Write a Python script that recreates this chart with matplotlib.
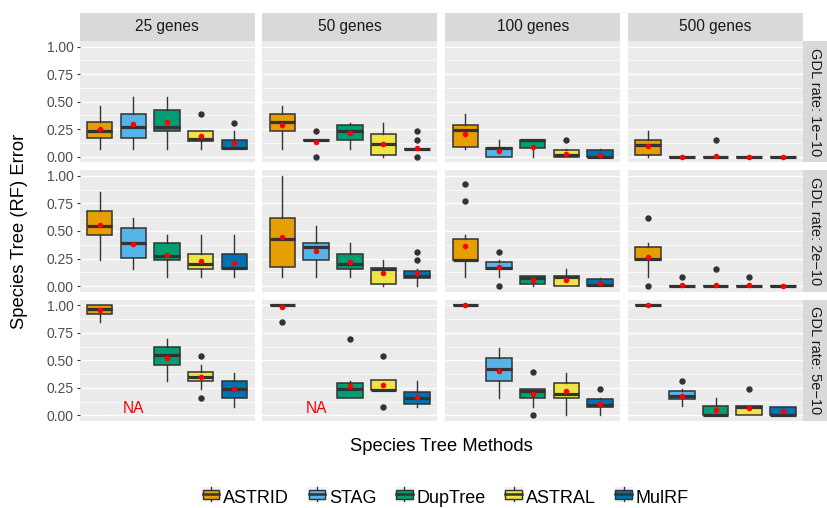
import numpy as np
import matplotlib
matplotlib.use("Agg")
import matplotlib.pyplot as plt
from matplotlib.patches import Rectangle
from matplotlib.lines import Line2D
from matplotlib.legend_handler import HandlerBase

plt.rcParams["font.family"] = ["Liberation Sans", "DejaVu Sans"]

METHODS = ["ASTRID", "STAG", "DupTree", "ASTRAL", "MulRF"]
COLORS = ["#E69F00", "#56B4E9", "#009E73", "#F0E442", "#0072B2"]
GENES = ["25 genes", "50 genes", "100 genes", "500 genes"]
RATES = ["GDL rate: 1e\u221210", "GDL rate: 2e\u221210", "GDL rate: 5e\u221210"]
NA = np.nan

# box stats: [rate][genes][method] = (whislo, q1, med, q3, whishi)
STATS = [
    [  # 1e-10
        [(.074, .168, .233, .313, .463), (.074, .168, .273, .39, .54), (.074, .23, .267, .426, .54),
         (.074, .147, .16, .233, .233), (.07, .07, .077, .156, .233)],
        [(.074, .23, .316, .39, .463), (.153, .153, .153, .153, .153), (.074, .15, .236, .29, .304),
         (0, .012, .116, .208, .304), (.074, .074, .074, .074, .074)],
        [(.074, .089, .239, .288, .387), (0, 0, .077, .077, .15), (0, .077, .154, .154, .154),
         (0, 0, .02, .058, .074), (0, 0, 0, .058, .074)],
        [(0, .018, .11, .153, .233), (0, 0, 0, 0, 0), (0, 0, 0, 0, 0),
         (0, 0, 0, 0, 0), (0, 0, 0, 0, 0)],
    ],
    [  # 2e-10
        [(.236, .467, .545, .679, .849), (.158, .252, .391, .524, .618), (.082, .234, .273, .391, .464),
         (.082, .155, .197, .291, .464), (.082, .152, .161, .291, .464)],
        [(.082, .173, .427, .618, 1.0), (.082, .234, .355, .391, .543), (.082, .155, .197, .291, .388),
         (0, .02, .155, .16, .234), (0, .076, .088, .136, .155)],
        [(.082, .234, .24, .427, .464), (.082, .152, .16, .215, .234), (0, .02, .076, .088, .088),
         (0, 0, .08, .088, .155), (0, 0, .01, .064, .076)],
        [(.082, .234, .245, .352, .388), (0, 0, 0, 0, 0), (0, 0, 0, 0, 0),
         (0, 0, 0, 0, 0), (0, 0, 0, 0, 0)],
    ],
    [  # 5e-10
        [(.844, .919, .967, 1.0, 1.0), None, (.314, .461, .548, .617, .691),
         (.237, .311, .35, .39, .458), (.081, .156, .237, .314, .386)],
        [(1.0, 1.0, 1.0, 1.0, 1.0), None, (.156, .156, .24, .291, .311),
         (.231, .231, .235, .318, .318), (.081, .102, .156, .216, .311)],
        [(1.0, 1.0, 1.0, 1.0, 1.0), (.162, .311, .425, .521, .614), (.081, .156, .222, .24, .242),
         (0, .156, .192, .291, .386), (0, .075, .096, .147, .156)],
        [(1.0, 1.0, 1.0, 1.0, 1.0), (.087, .153, .18, .219, .237), (0, 0, 0, .084, .156),
         (0, 0, .08, .09, .09), (0, 0, 0, .08, .08)],
    ],
]

MEANS = [
    [[.254, .295, .316, .184, .129], [.291, .138, .215, .118, .08],
     [.205, .052, .092, .027, .018], [.095, 0, .01, 0, 0]],
    [[.552, .382, .285, .227, .209], [.443, .322, .221, .118, .118],
     [.367, .17, .058, .058, .025], [.264, .01, .012, .006, 0]],
    [[.955, NA, .518, .35, .237], [.985, NA, .264, .273, .165],
     [1.0, .407, .198, .219, .108], [1.0, .174, .054, .069, .042]],
]

OUTLIERS = [
    [[[], [], [], [.387], [.31]], [[], [.233, 0], [], [], [.233, .15, 0]],
     [[], [], [], [.153], []], [[], [], [.153], [], []]],
    [[[], [], [], [], []], [[], [], [], [], [.312, .234]],
     [[.93, .776], [.312, 0], [], [], []], [[.62, 0], [.082], [.155], [.082], []]],
    [[[], [], [], [.542, .159], []], [[.844], [], [.691], [.542, .081], []],
     [[], [], [.39, 0], [], [.237]], [[], [.311], [], [.237], []]],
]

W, H = 827, 508
COL_LEFT = [79.5, 262.3, 445.2, 628.0]
COL_W = 175.0
ROW_TOP = [41.0, 170.3, 299.7]
ROW_H = 121.3
EDGE = "#333333"


def fax(x, y, w, h):
    return fig.add_axes([x / W, 1 - (y + h) / H, w / W, h / H])


class BoxKey(HandlerBase):
    def create_artists(self, legend, orig, xd, yd, width, height, fontsize, trans):
        bg = Rectangle((xd, yd), width, height, facecolor="#F2F2F2", edgecolor="none", transform=trans)
        cx = xd + width / 2
        wl = Line2D([cx, cx], [yd + 0.02 * height, yd + 0.98 * height], color=EDGE, lw=1.0, transform=trans)
        box = Rectangle((xd + 0.08 * width, yd + 0.2 * height), 0.84 * width, 0.6 * height,
                        facecolor=orig.get_facecolor(), edgecolor=EDGE, lw=1.0, transform=trans)
        med = Line2D([xd + 0.08 * width, xd + 0.92 * width], [yd + height / 2] * 2, color=EDGE, lw=1.8,
                     transform=trans)
        return [bg, wl, box, med]


fig = plt.figure(figsize=(W / 100, H / 100), dpi=100)
pos = np.arange(1, len(METHODS) + 1)

for r in range(3):
    for c in range(4):
        ax = fax(COL_LEFT[c], ROW_TOP[r], COL_W, ROW_H)
        ax.set_facecolor("#EBEBEB")
        for s in ax.spines.values():
            s.set_visible(False)
        stats, keep, cols = [], [], []
        for m in range(len(METHODS)):
            st = STATS[r][c][m]
            if st is None:
                continue
            lo, q1, med, q3, hi = st
            stats.append(dict(whislo=lo, q1=q1, med=med, q3=q3, whishi=hi, fliers=OUTLIERS[r][c][m]))
            keep.append(pos[m])
            cols.append(COLORS[m])
        bp = ax.bxp(stats, positions=keep, widths=0.76, patch_artist=True, showcaps=False,
                    boxprops=dict(edgecolor=EDGE, linewidth=1.1),
                    whiskerprops=dict(color=EDGE, linewidth=1.0),
                    medianprops=dict(color=EDGE, linewidth=2.3, solid_capstyle="butt"),
                    flierprops=dict(marker="o", markerfacecolor=EDGE, markeredgecolor="none",
                                    markersize=4.6))
        for patch, col in zip(bp["boxes"], cols):
            patch.set_facecolor(col)
        ax.scatter(pos, MEANS[r][c], s=16, color="red", zorder=5, linewidths=0)
        if r == 2 and c < 2:
            ax.text(2, 0.06, "NA", color="red", ha="center", va="center", fontsize=11.2)
        ax.set_xlim(0.4, 5.6)
        ax.set_ylim(-0.05, 1.05)
        ax.set_xticks([])
        ax.set_yticks([0, 0.25, 0.5, 0.75, 1.0])
        ax.set_yticks([0.125, 0.375, 0.625, 0.875], minor=True)
        ax.grid(True, which="major", axis="y", color="white", lw=1.0)
        ax.grid(True, which="minor", axis="y", color="white", lw=0.5)
        ax.set_axisbelow(True)
        ax.tick_params(axis="y", which="minor", length=0)
        if c == 0:
            ax.set_yticklabels(["0.00", "0.25", "0.50", "0.75", "1.00"])
            ax.tick_params(axis="y", which="major", length=2.5, width=0.8, color=EDGE,
                           labelsize=10, labelcolor="#4D4D4D", pad=1.5)
        else:
            ax.tick_params(axis="y", which="major", length=0, labelleft=False)

        if r == 0:
            sa = fax(COL_LEFT[c], 13, COL_W, ROW_TOP[0] - 13)
            sa.set_facecolor("#D9D9D9")
            sa.set_xticks([]); sa.set_yticks([])
            for s in sa.spines.values():
                s.set_visible(False)
            sa.text(0.5, 0.5, GENES[c], ha="center", va="center", fontsize=11.2, color="#1A1A1A",
                    transform=sa.transAxes)
        if c == 3:
            sa = fax(COL_LEFT[3] + COL_W, ROW_TOP[r], W - COL_LEFT[3] - COL_W, ROW_H)
            sa.set_facecolor("#D9D9D9")
            sa.set_xticks([]); sa.set_yticks([])
            for s in sa.spines.values():
                s.set_visible(False)
            sa.text(0.5, 0.5, RATES[r], ha="center", va="center", rotation=-90, fontsize=10.5,
                    color="#1A1A1A", transform=sa.transAxes)

fig.text(441.5 / W, 1 - 446.7 / H, "Species Tree Methods", ha="center", va="center", fontsize=13.2)
fig.text(20 / W, 1 - 231 / H, "Species Tree (RF) Error", ha="center", va="center", rotation=90,
         fontsize=13.2)

handles = [Rectangle((0, 0), 1, 1, facecolor=col) for col in COLORS]
fig.legend(handles, METHODS, handler_map={Rectangle: BoxKey()}, loc="center",
           bbox_to_anchor=(445 / W, 1 - 498 / H), ncol=5, frameon=False, fontsize=13,
           handlelength=1.1, handleheight=0.9, handletextpad=0.12, columnspacing=1.0,
           borderpad=0, borderaxespad=0)

fig.savefig("out.png", dpi=100)
